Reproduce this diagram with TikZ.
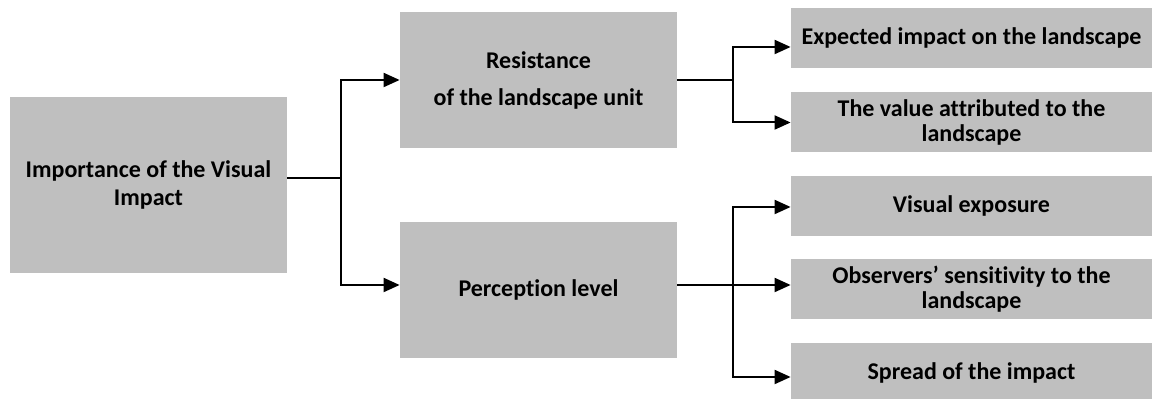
\documentclass[tikz,border=0pt]{standalone}
\usepackage{fontspec}
\setmainfont[Ligatures=NoCommon]{Carlito}
\usepackage{tikz}
\usetikzlibrary{arrows.meta}
\usetikzlibrary{positioning}
\usepackage{xcolor}
\definecolor{boxgray}{RGB}{191,191,191}

\begin{document}
\begin{tikzpicture}[
    x=0.5pt, y=-0.5pt,
    % box styles
    root box/.style={
        fill=boxgray,
        draw=none,
        inner sep=0pt,
        minimum width=138.5pt,
        minimum height=88pt,
        align=center,
        font=\fontsize{12}{14}\selectfont\bfseries
    },
    branch box/.style={
        root box,
        minimum height=68pt
    },
    leaf box/.style={
        fill=boxgray,
        draw=none,
        inner sep=0pt,
        minimum width=180.5pt,
        minimum height=30pt,
        align=center,
        font=\fontsize{12}{12.5}\selectfont\bfseries
    },
    % connector style
    link/.style={
        draw=black,
        line width=1pt,
        -{Triangle[length=8pt, width=7pt]}
    }
]

\useasboundingbox (0,0) rectangle (1152,399);

% -------------------------------
% first level
\node[root box] (importance) at (148.5,185) {Importance of the Visual\\Impact};

% -------------------------------
% second level
\node[branch box] (resistance) at (538.5,80) {Resistance\\[4.5pt]of the landscape unit};
\node[branch box] (perception) at (538.5,290) {Perception level};

% -------------------------------
% third level
\node[leaf box] (expected) at (971.5,38) {Expected impact on the landscape};
\node[leaf box] (value) at (971.5,122.5) {The value attributed to the\\landscape};
\node[leaf box] (exposure) at (971.5,206) {Visual exposure};
\node[leaf box] (sensitivity) at (971.5,289.5) {Observers' sensitivity to the\\landscape};
\node[leaf box] (spread) at (971.5,373) {Spread of the impact};

% -------------------------------
% connectors from the first level
\draw[link] ([yshift=3.5pt]importance.east) -- ++(27pt,0) |- (resistance.west);
\draw[link] ([yshift=3.5pt]importance.east) -- ++(27pt,0) |- ([yshift=2.5pt]perception.west);

% connectors from the second level
\foreach \leaf/\dy in {expected/-4.5pt, value/0pt}
    \draw[link] (resistance.east) -- ++(28pt,0) |- ([yshift=\dy]\leaf.west);

\foreach \leaf/\dy in {exposure/-0.5pt, sensitivity/2.25pt, spread/-2pt}
    \draw[link] ([yshift=2.5pt]perception.east) -- ++(28pt,0) |- ([yshift=\dy]\leaf.west);

\end{tikzpicture}
\end{document}
